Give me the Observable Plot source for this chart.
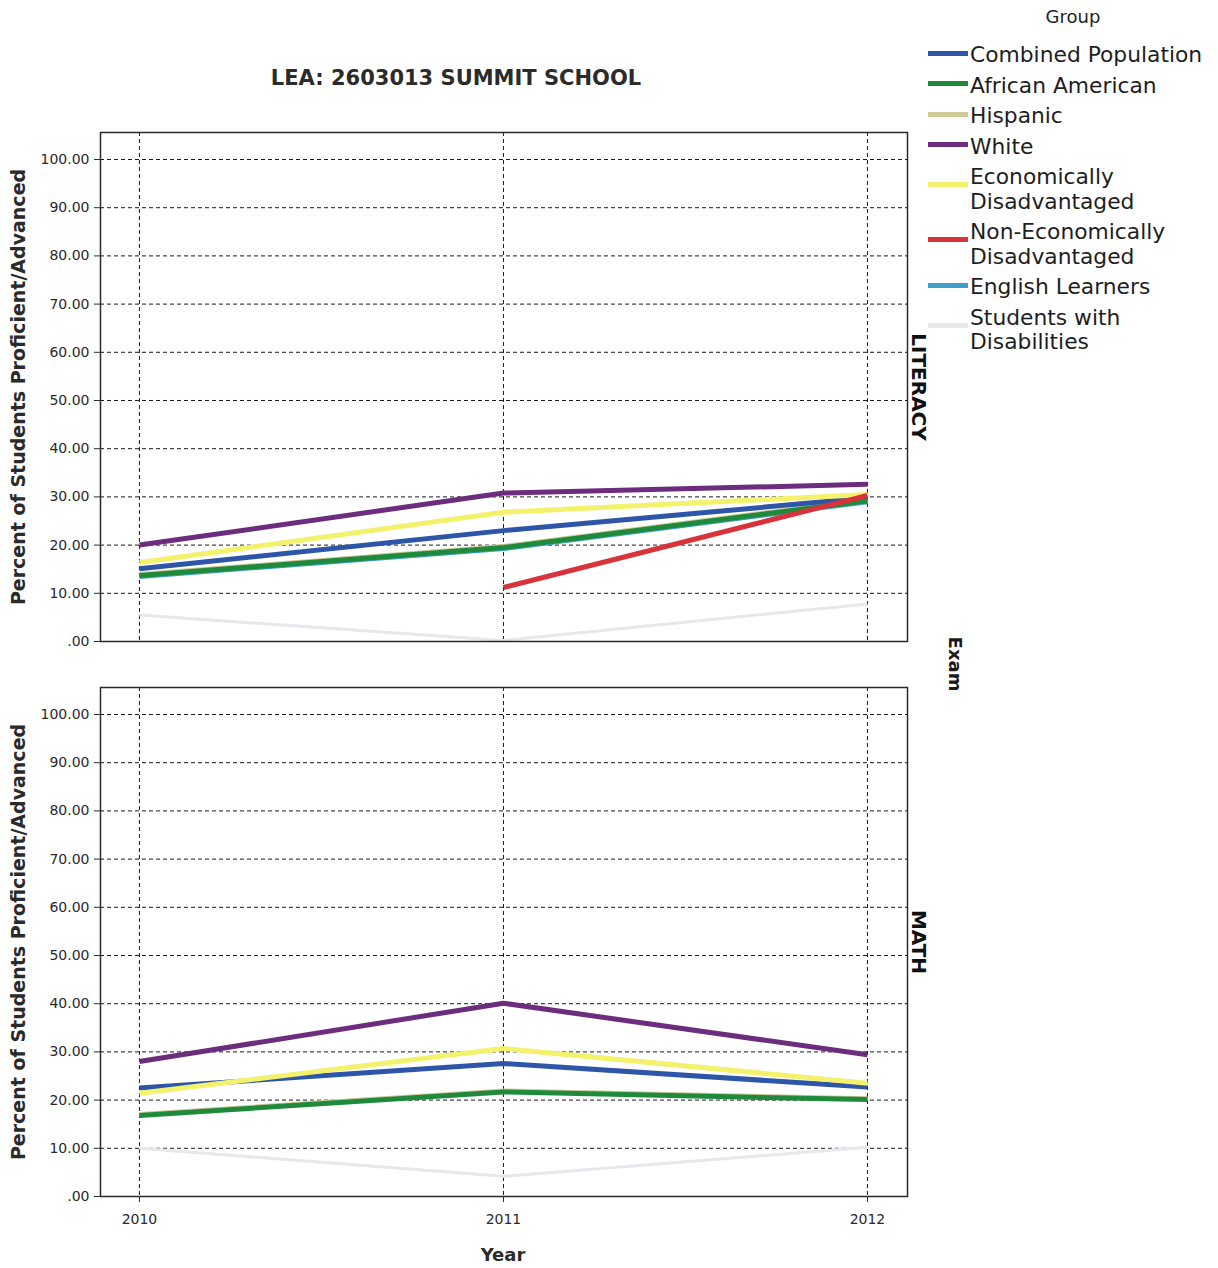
<!DOCTYPE html>
<html>
<head>
<meta charset="utf-8">
<script src="https://cdn.jsdelivr.net/npm/d3@7"></script>
<script src="https://cdn.jsdelivr.net/npm/@observablehq/plot@0.6"></script>
<style>
  html, body { margin: 0; padding: 0; background: #fff; }
  #wrap { position: relative; width: 1218px; height: 1268px; font-family: "DejaVu Sans", sans-serif; color: #222; overflow: hidden; }
  #chart { position: absolute; left: 0; top: 0; }
  .abs { position: absolute; white-space: nowrap; }
  #title { left: 456px; top: 66px; transform: translateX(-50%); font-size: 21px; font-weight: bold; color: #2b2b2b; }
  #exam { left: 955px; top: 664px; transform: translate(-50%, -50%) rotate(90deg); font-size: 18px; font-weight: bold; color: #1a1a1a; }
  #year { left: 503px; top: 1254px; transform: translate(-50%, -50%); font-size: 18px; font-weight: bold; color: #2b2b2b; }
  #groupTitle { left: 1073px; top: 16px; transform: translate(-50%, -50%); font-size: 18px; color: #222; }
  #legend { position: absolute; left: 928px; top: 43px; }
  .item { position: relative; margin-bottom: 6px; }
  .swatch { position: absolute; left: 0; width: 40px; height: 5px; }
  .lab { margin-left: 42px; font-size: 21.8px; line-height: 24.5px; color: #1e1e1e; white-space: pre; }
</style>
</head>
<body>
<div id="wrap">
  <div id="chart"></div>
  <div id="title" class="abs"></div>
  <div id="groupTitle" class="abs">Group</div>
  <div id="legend"></div>
  <div id="exam" class="abs">Exam</div>
  <div id="year" class="abs">Year</div>
</div>
<script>
// ---- data ----
const chartTitle = "LEA: 2603013 SUMMIT SCHOOL";
const years = [2010, 2011, 2012];
const exams = ["LITERACY", "MATH"];
const groups = [
  "Combined Population",
  "African American",
  "Hispanic",
  "White",
  "Economically Disadvantaged",
  "Non-Economically Disadvantaged",
  "English Learners",
  "Students with Disabilities"
];
const groupLabels = [
  "Combined Population",
  "African American",
  "Hispanic",
  "White",
  "Economically\nDisadvantaged",
  "Non-Economically\nDisadvantaged",
  "English Learners",
  "Students with\nDisabilities"
];
const groupColors = ["#2e56a8", "#1f8a3c", "#cfcc9a", "#6c2d7e", "#f4f26c", "#d8323b", "#3f9dc9", "#e6e8eb"];
// values per group (same order as groups), for 2010, 2011, 2012
const literacyValues = [
  [15.1, 23.0, 29.8],
  [13.7, 19.5, 29.2],
  [13.9, 19.7, 29.4],
  [20.0, 30.8, 32.6],
  [16.4, 26.8, 30.5],
  [null, 11.2, 30.3],
  [13.5, 19.3, 29.0],
  [5.5, 0.2, 7.8]
];
const mathValues = [
  [22.5, 27.6, 22.7],
  [16.8, 21.7, 20.1],
  [17.0, 21.9, 20.3],
  [28.0, 40.1, 29.4],
  [21.4, 30.7, 23.5],
  [null, null, null],
  [null, null, null],
  [10.0, 4.2, 10.2]
];
const yTicks = [0, 10, 20, 30, 40, 50, 60, 70, 80, 90, 100];
const yTitle = "Percent of Students Proficient/Advanced";

// drawing order (back to front)
const drawOrder = [7, 6, 2, 0, 1, 3, 4, 5];

const rows = [];
exams.forEach((exam, e) => {
  const vals = e === 0 ? literacyValues : mathValues;
  drawOrder.forEach(g => {
    years.forEach((year, i) => {
      const v = vals[g][i];
      if (v != null) rows.push({exam, group: groups[g], year, value: v});
    });
  });
});

const fmt = d => d === 0 ? ".00" : d.toFixed(2);

const chart = Plot.plot({
  width: 1218,
  height: 1268,
  marginLeft: 100,
  marginRight: 311,
  marginTop: 131,
  marginBottom: 71,
  style: {fontFamily: "DejaVu Sans, sans-serif", fontSize: "14px", color: "#2a2a2a", background: "transparent"},
  facet: {data: rows, y: "exam"},
  fy: {domain: exams, paddingInner: 0.0827, paddingOuter: 0, axis: null, label: null},
  x: {domain: [2009.893, 2012.11], ticks: years, tickFormat: d => String(d), label: null, tickSize: 6, tickPadding: 12},
  y: {domain: [0, 105.6], ticks: yTicks, tickFormat: fmt, label: null, tickSize: 6, tickPadding: 5},
  color: {domain: groups, range: groupColors},
  marks: [
    Plot.ruleY(yTicks.filter(d => d > 0), {stroke: "#1a1a1a", strokeWidth: 1, strokeDasharray: "4,3"}),
    Plot.ruleX(years, {stroke: "#1a1a1a", strokeWidth: 1, strokeDasharray: "4,3"}),
    Plot.line(rows, {filter: d => d.group === "Students with Disabilities", x: "year", y: "value", z: "group", stroke: "group", strokeWidth: 3, strokeLinecap: "butt"}),
    Plot.line(rows, {filter: d => d.group !== "Students with Disabilities", x: "year", y: "value", z: "group", stroke: "group", strokeWidth: 5, strokeLinecap: "butt", strokeLinejoin: "round"}),
    Plot.frame({stroke: "#2a2a2a", strokeWidth: 1.5}),
    Plot.text(rows, Plot.selectFirst({text: "exam", frameAnchor: "right", textAnchor: "middle", rotate: 90, dx: 11, fontWeight: "bold", fontSize: 20, fill: "#111"})),
    Plot.text([yTitle], {text: d => d, frameAnchor: "left", textAnchor: "middle", rotate: -90, dx: -82, fontWeight: "bold", fontSize: 19, fill: "#2a2a2a"})
  ]
});
document.getElementById("chart").appendChild(chart);
document.getElementById("title").textContent = chartTitle;

// legend
const legend = document.getElementById("legend");
groups.forEach((g, i) => {
  const item = document.createElement("div");
  item.className = "item";
  const multi = groupLabels[i].includes("\n");
  const sw = document.createElement("div");
  sw.className = "swatch";
  sw.style.background = groupColors[i];
  sw.style.top = (multi ? 17 : 7.5) + "px";
  const lab = document.createElement("div");
  lab.className = "lab";
  lab.textContent = groupLabels[i];
  item.appendChild(sw);
  item.appendChild(lab);
  legend.appendChild(item);
});
</script>
</body>
</html>
